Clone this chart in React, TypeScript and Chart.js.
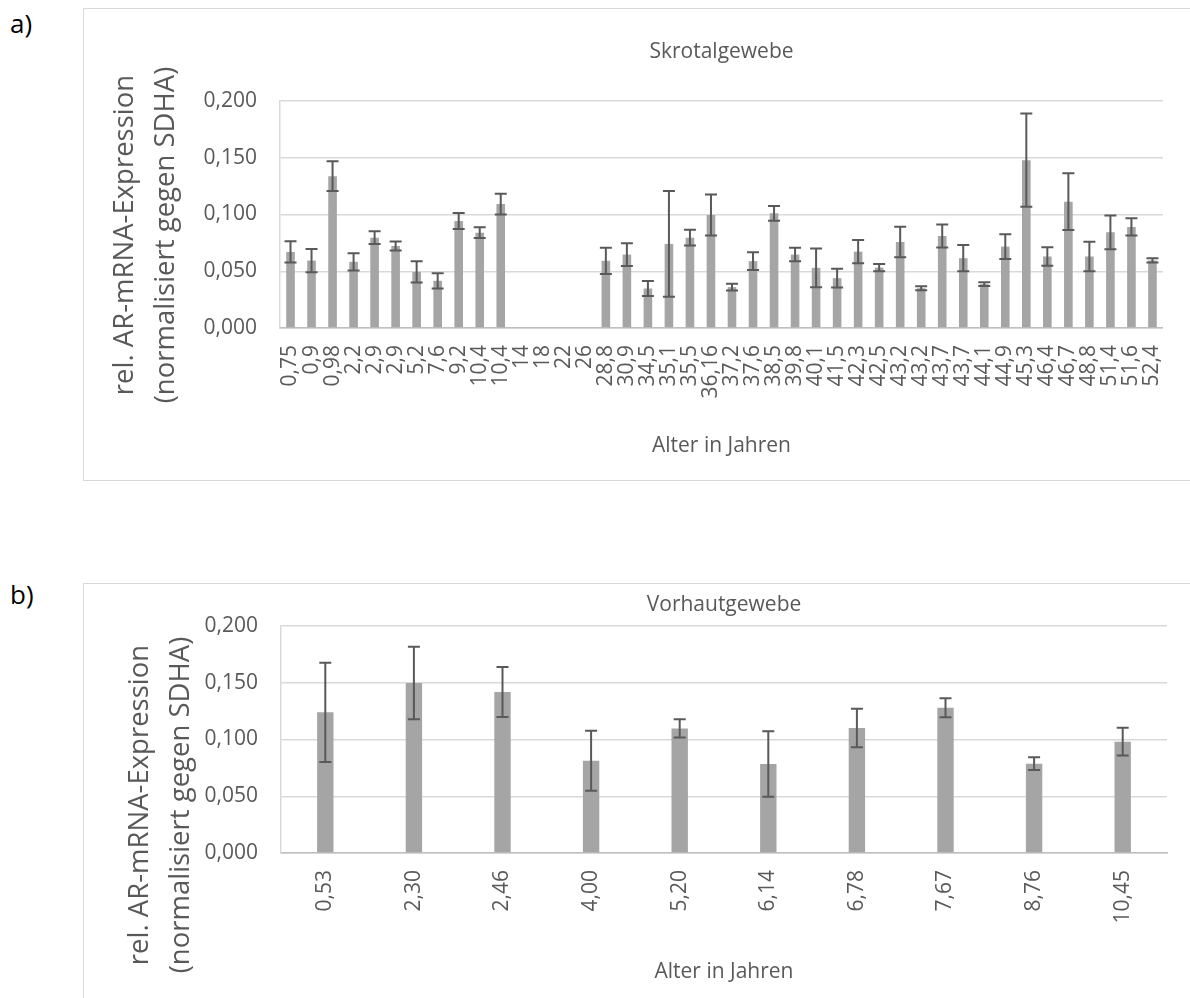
import React, { useEffect, useRef } from "react";
import { Chart, registerables } from "chart.js";

Chart.register(...registerables);

const FONT = "'Open Sans', sans-serif";
const TEXT_COLOR = "#595959";
const BAR_COLOR = "#A5A5A5";
const ERR_COLOR = "#595959";
const GRID_COLOR = "#D9D9D9";
const AXIS_COLOR = "#BFBFBF";

// ---- a) Skrotalgewebe ----
const skrotalLabels = [
  "0,75", "0,9", "0,98", "2,2", "2,9", "2,9", "5,2", "7,6", "9,2", "10,4", "10,4",
  "14", "18", "22", "26",
  "28,8", "30,9", "34,5", "35,1", "35,5", "36,16", "37,2", "37,6", "38,5", "39,8",
  "40,1", "41,5", "42,3", "42,5", "43,2", "43,2", "43,7", "43,7", "44,1", "44,9",
  "45,3", "46,4", "46,7", "48,8", "51,4", "51,6", "52,4",
];
const skrotalValues: (number | null)[] = [
  0.0670, 0.0594, 0.1338, 0.0583, 0.0796, 0.0723, 0.0495, 0.0416, 0.0943, 0.0840, 0.1092,
  null, null, null, null,
  0.0592, 0.0647, 0.0348, 0.0741, 0.0796, 0.0996, 0.0360, 0.0589, 0.1010, 0.0647,
  0.0530, 0.0439, 0.0673, 0.0532, 0.0758, 0.0350, 0.0811, 0.0615, 0.0387, 0.0717,
  0.1479, 0.0630, 0.1113, 0.0630, 0.0843, 0.0890, 0.0595,
];
const skrotalErrors: (number | null)[] = [
  0.0094, 0.0103, 0.0132, 0.0076, 0.0056, 0.0040, 0.0094, 0.0067, 0.0070, 0.0047, 0.0091,
  null, null, null, null,
  0.0116, 0.0100, 0.0066, 0.0466, 0.0070, 0.0180, 0.0030, 0.0078, 0.0064, 0.0059,
  0.0170, 0.0083, 0.0102, 0.0032, 0.0135, 0.0018, 0.0101, 0.0116, 0.0016, 0.0108,
  0.0411, 0.0082, 0.0250, 0.0129, 0.0149, 0.0076, 0.0019,
];

// ---- b) Vorhautgewebe ----
const vorhautLabels = ["0,53", "2,30", "2,46", "4,00", "5,20", "6,14", "6,78", "7,67", "8,76", "10,45"];
const vorhautValues = [0.1239, 0.1498, 0.1419, 0.0813, 0.1098, 0.0784, 0.1101, 0.1280, 0.0787, 0.0981];
const vorhautErrors = [0.0438, 0.0320, 0.0220, 0.0264, 0.0081, 0.0289, 0.0170, 0.0084, 0.0056, 0.0123];

const Y_MIN = 0;
const Y_MAX = 0.2;
const Y_STEP = 0.05;

const yTitleLines = ["rel. AR-mRNA-Expression", "(normalisiert gegen SDHA)"];
const xTitle = "Alter in Jahren";

type PanelProps = {
  title: string;
  labels: string[];
  values: (number | null)[];
  errors: (number | null)[];
  width: number;
  height: number;
  padTop: number;
  padRight: number;
  yAxisWidth: number;
  xAxisHeight: number;
  barPercentage: number;
  titleY: number;
  xTitleY: number;
  yTitleX1: number;
  yTitleX2: number;
  yTitleCY: number;
  xTickPad: number;
};

function BarPanel(p: PanelProps) {
  const ref = useRef<HTMLCanvasElement | null>(null);

  useEffect(() => {
    if (!ref.current) return;

    const errorBars = {
      id: "errorBars",
      afterDatasetsDraw(chart: any) {
        const meta = chart.getDatasetMeta(0);
        const data = chart.data.datasets[0].data as (number | null)[];
        const ys = chart.scales.y;
        const ctx = chart.ctx as CanvasRenderingContext2D;
        const cap = 6;
        ctx.save();
        ctx.strokeStyle = ERR_COLOR;
        ctx.lineWidth = 2;
        meta.data.forEach((el: any, i: number) => {
          const v = data[i];
          const e = p.errors[i];
          if (v == null || e == null) return;
          const x = el.x;
          const yTop = ys.getPixelForValue(v + e);
          const yBot = ys.getPixelForValue(v - e);
          ctx.beginPath();
          ctx.moveTo(x, yTop);
          ctx.lineTo(x, yBot);
          ctx.moveTo(x - cap, yTop);
          ctx.lineTo(x + cap, yTop);
          ctx.moveTo(x - cap, yBot);
          ctx.lineTo(x + cap, yBot);
          ctx.stroke();
        });
        ctx.restore();
      },
    };

    const texts = {
      id: "panelTexts",
      afterDraw(chart: any) {
        const ctx = chart.ctx as CanvasRenderingContext2D;
        const area = chart.chartArea;
        const cx = (area.left + area.right) / 2;
        ctx.save();
        ctx.fillStyle = TEXT_COLOR;
        ctx.textAlign = "center";
        ctx.textBaseline = "middle";
        ctx.font = `21px ${FONT}`;
        ctx.fillText(p.title, cx, p.titleY);
        ctx.fillText(xTitle, cx, p.xTitleY);
        ctx.font = `27.5px ${FONT}`;
        ctx.textBaseline = "alphabetic";
        const xs = [p.yTitleX1, p.yTitleX2];
        yTitleLines.forEach((line, i) => {
          ctx.save();
          ctx.translate(xs[i], p.yTitleCY);
          ctx.rotate(-Math.PI / 2);
          ctx.fillText(line, 0, 0);
          ctx.restore();
        });
        ctx.restore();
      },
    };

    const chart = new Chart(ref.current, {
      type: "bar",
      data: {
        labels: p.labels,
        datasets: [
          {
            data: p.values,
            backgroundColor: BAR_COLOR,
            borderWidth: 0,
            barPercentage: p.barPercentage,
            categoryPercentage: 1,
          },
        ],
      },
      options: {
        responsive: false,
        animation: false,
        events: [],
        layout: { padding: { top: p.padTop, right: p.padRight, bottom: 0, left: 0 } },
        plugins: {
          legend: { display: false },
          tooltip: { enabled: false },
          title: { display: false },
        },
        scales: {
          x: {
            offset: true,
            grid: { display: false, drawTicks: false },
            border: { display: true, color: AXIS_COLOR, width: 1.5 },
            ticks: {
              autoSkip: false,
              maxRotation: 90,
              minRotation: 90,
              padding: p.xTickPad,
              color: TEXT_COLOR,
              font: { family: FONT, size: 21 },
            },
            afterFit: (s: any) => {
              s.height = p.xAxisHeight;
            },
          } as any,
          y: {
            min: Y_MIN,
            max: Y_MAX,
            grid: { color: GRID_COLOR, lineWidth: 1.5, drawTicks: false },
            border: { display: true, color: GRID_COLOR, width: 1.5 },
            ticks: {
              stepSize: Y_STEP,
              padding: 23,
              color: TEXT_COLOR,
              font: { family: FONT, size: 21 },
              callback: (v: any) => Number(v).toFixed(3).replace(".", ","),
            },
            afterFit: (s: any) => {
              s.width = p.yAxisWidth;
            },
          } as any,
        },
      },
      plugins: [errorBars, texts],
    });
    return () => chart.destroy();
  }, []);

  return (
    <canvas
      ref={ref}
      width={p.width}
      height={p.height}
      style={{ position: "absolute", left: -1, top: -1, display: "block" }}
    />
  );
}

const boxStyle = (top: number, height: number): React.CSSProperties => ({
  position: "absolute",
  left: 83,
  top,
  width: 1112,
  height,
  boxSizing: "border-box",
  border: `1px solid ${GRID_COLOR}`,
  background: "#fff",
});

const tagStyle = (top: number): React.CSSProperties => ({
  position: "absolute",
  left: 10,
  top,
  fontFamily: FONT,
  fontSize: 26,
  lineHeight: "34px",
  color: "#000",
});

export default function App() {
  return (
    <div
      style={{
        position: "absolute",
        left: 0,
        top: 0,
        width: 1190,
        height: 998,
        overflow: "hidden",
        background: "#fff",
      }}
    >
      <div style={tagStyle(6)}>a)</div>
      <div style={tagStyle(577)}>b)</div>

      <div style={boxStyle(8, 473)}>
        <BarPanel
          title="Skrotalgewebe"
          labels={skrotalLabels}
          values={skrotalValues}
          errors={skrotalErrors}
          width={1112}
          height={473}
          padTop={93}
          padRight={29}
          yAxisWidth={197}
          xAxisHeight={153}
          barPercentage={0.41}
          titleY={44}
          xTitleY={438}
          yTitleX1={50}
          yTitleX2={91}
          yTitleCY={227}
          xTickPad={17}
        />
      </div>

      <div style={boxStyle(583, 430)}>
        <BarPanel
          title="Vorhautgewebe"
          labels={vorhautLabels}
          values={vorhautValues}
          errors={vorhautErrors}
          width={1112}
          height={430}
          padTop={43}
          padRight={28}
          yAxisWidth={198}
          xAxisHeight={160}
          barPercentage={0.185}
          titleY={22}
          xTitleY={389}
          yTitleX1={65}
          yTitleX2={106}
          yTitleCY={222}
          xTickPad={17}
        />
      </div>
    </div>
  );
}
